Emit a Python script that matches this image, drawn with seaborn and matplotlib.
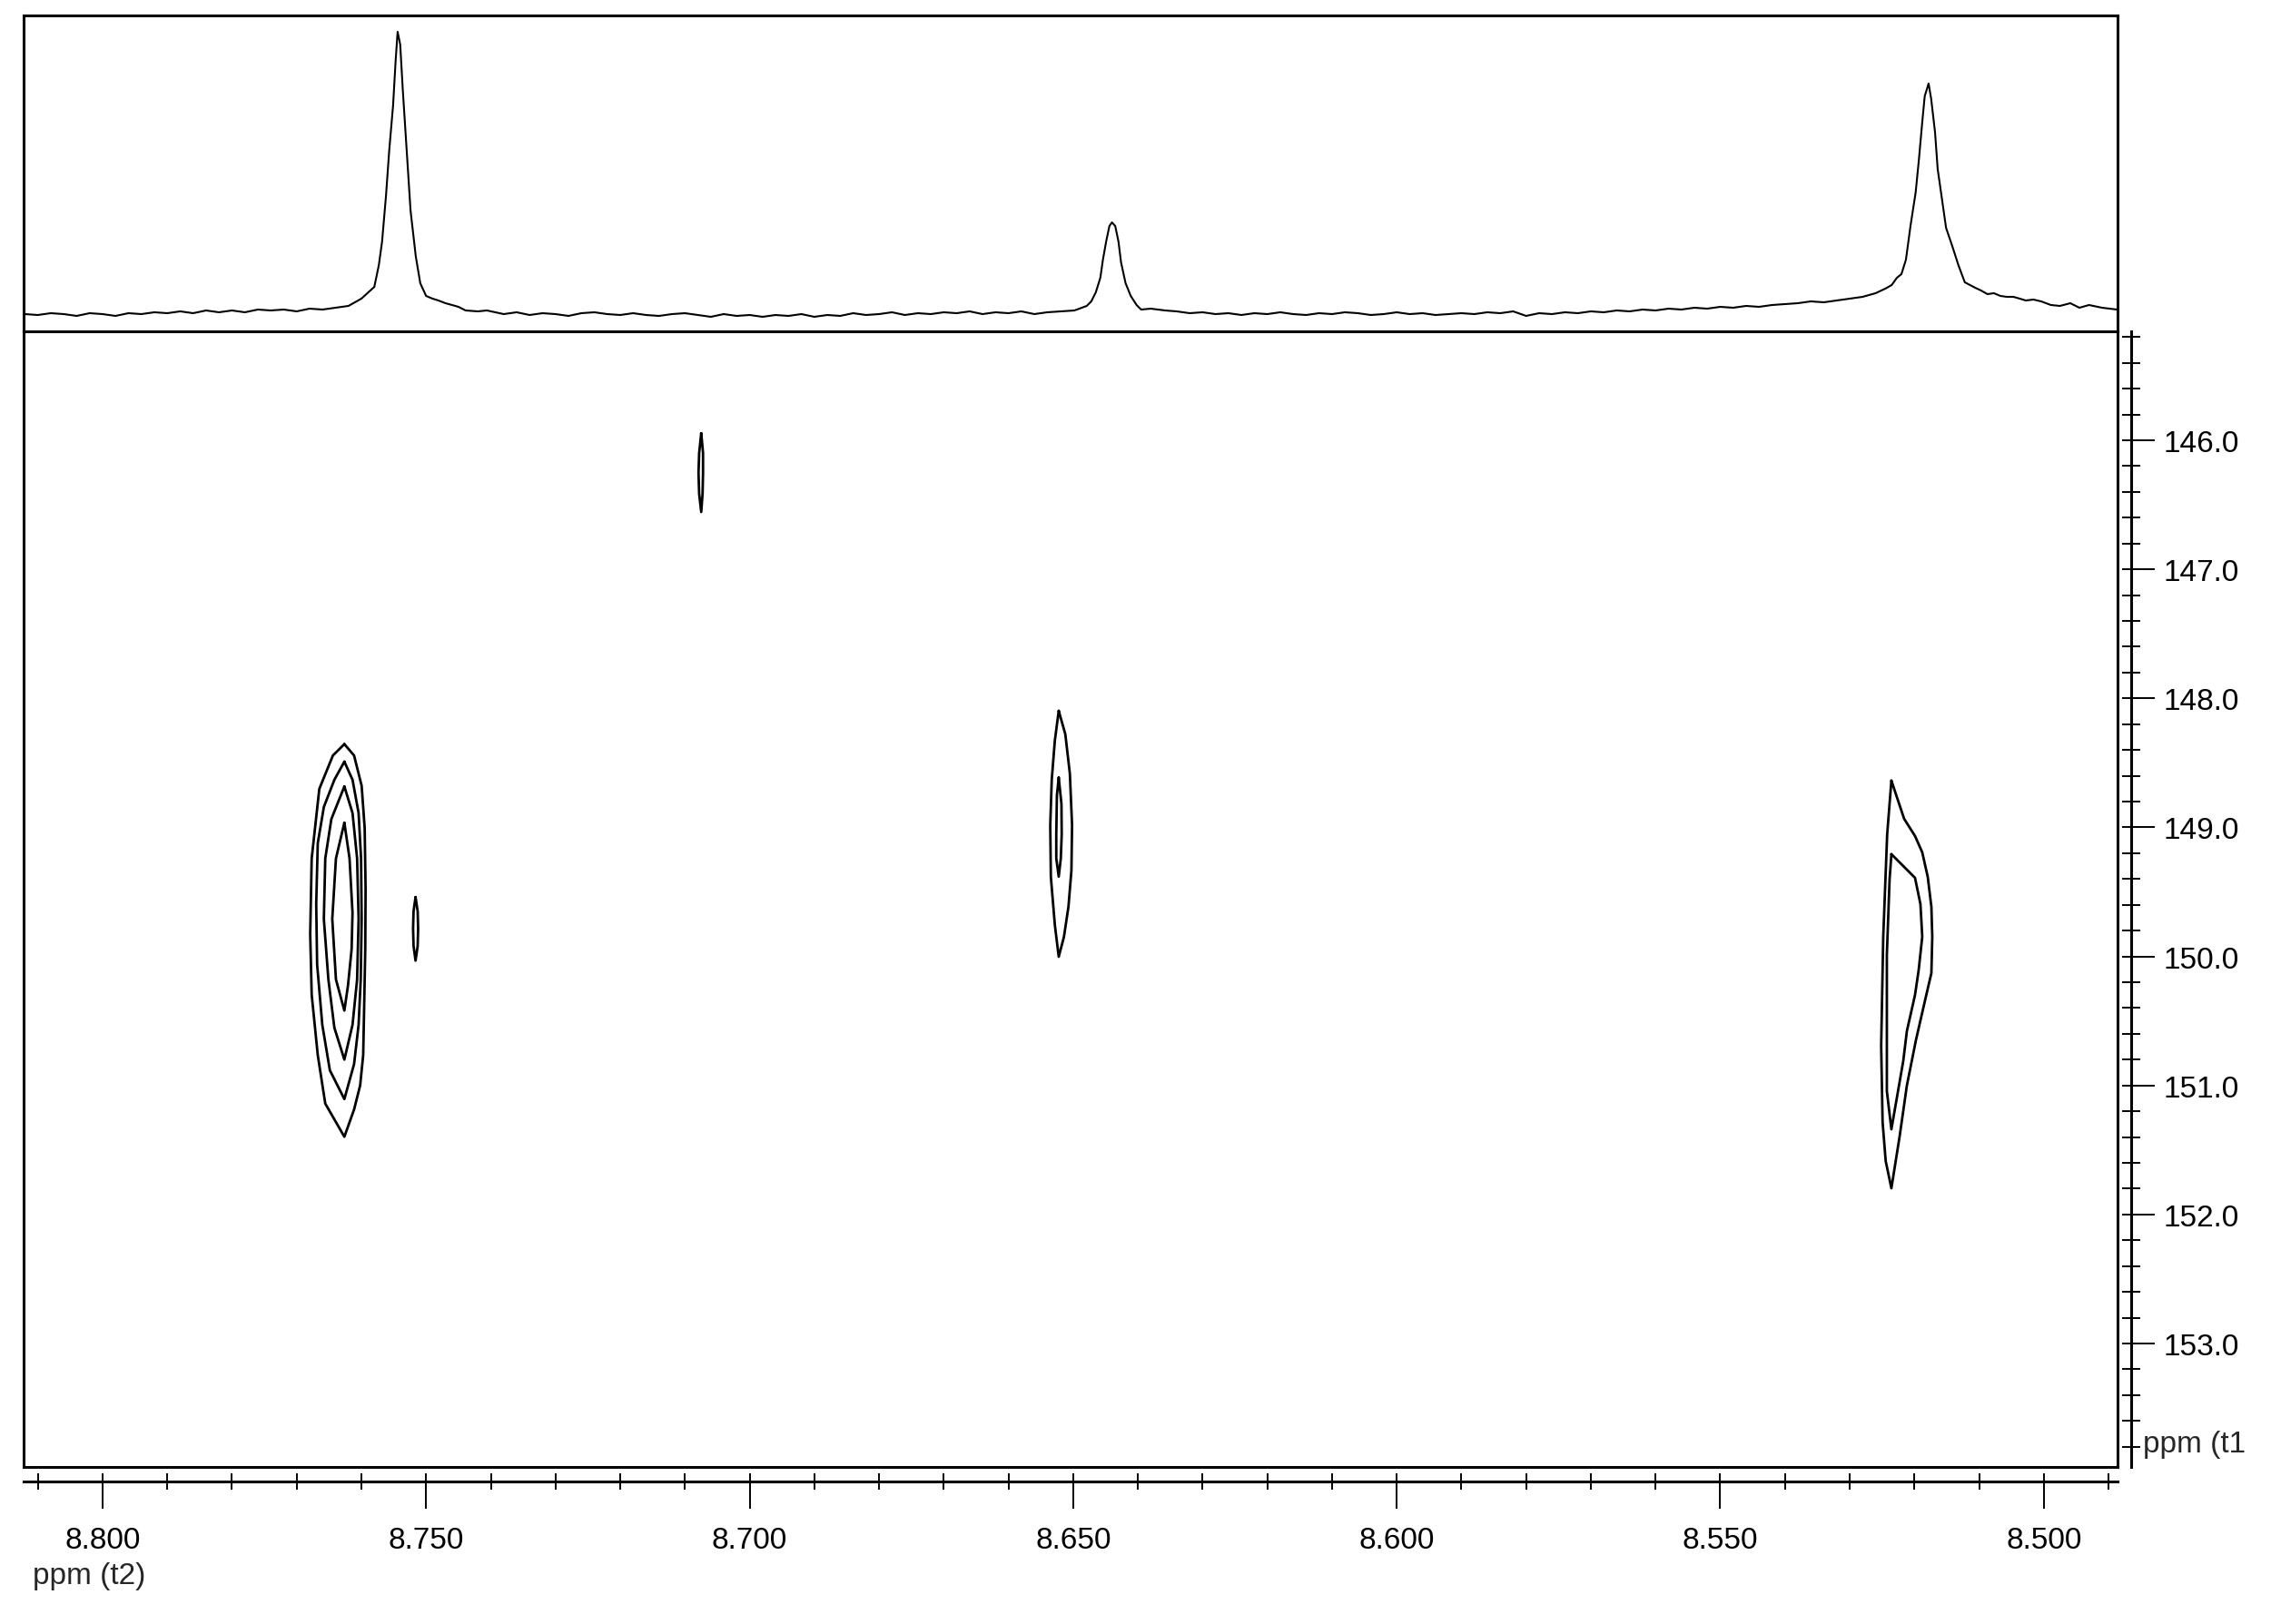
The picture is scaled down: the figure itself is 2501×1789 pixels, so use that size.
import numpy as np
import pandas as pd
import matplotlib
matplotlib.use("Agg")
import matplotlib.pyplot as plt
import seaborn as sns
from matplotlib.ticker import MultipleLocator, FormatStrFormatter

# 1D projection along t2: (ppm, intensity in a.u.)
base_left = [
    (8.812, 0), (8.810, -1), (8.808, 1), (8.806, 0), (8.804, -2), (8.802, 1),
    (8.800, 0), (8.798, -2), (8.796, 1), (8.794, 0), (8.792, 2), (8.790, 1),
    (8.788, 3), (8.786, 1), (8.784, 4), (8.782, 2), (8.780, 4), (8.778, 2),
    (8.776, 5), (8.774, 4), (8.772, 5), (8.770, 3), (8.768, 6), (8.766, 5),
    (8.764, 7), (8.762, 9),
]
peak_1 = [
    (8.7600, 17), (8.7580, 30), (8.7573, 54), (8.7568, 80), (8.7562, 130),
    (8.7557, 180), (8.7551, 230), (8.7547, 280), (8.7544, 311), (8.7540, 297),
    (8.7536, 247), (8.7530, 180), (8.7524, 114), (8.7516, 64), (8.7509, 34),
    (8.7500, 20), (8.7490, 17), (8.7481, 15), (8.7470, 12), (8.7460, 10),
    (8.7450, 8), (8.7439, 4), (8.7420, 3), (8.7406, 4),
]
base_mid = [
    (8.738, 0), (8.736, 2), (8.734, -1), (8.732, 1), (8.730, 0), (8.728, -2),
    (8.726, 1), (8.724, 2), (8.722, 0), (8.720, -1), (8.718, 1), (8.716, -1),
    (8.714, -2), (8.712, 0), (8.710, 1), (8.708, -1), (8.706, -3), (8.704, 0),
    (8.702, -2), (8.700, -1), (8.698, -3), (8.696, -1), (8.694, -2), (8.692, 0),
    (8.690, -3), (8.688, -1), (8.686, -2), (8.684, 1), (8.682, -1), (8.680, 0),
    (8.678, 2), (8.676, -1), (8.674, 1), (8.672, 0), (8.670, 2), (8.668, 1),
    (8.666, 3), (8.664, 0), (8.662, 2), (8.660, 1), (8.658, 3), (8.656, 0),
    (8.654, 2), (8.652, 3),
]
peak_2 = [
    (8.6498, 4), (8.6479, 9), (8.6472, 14), (8.6465, 24), (8.6458, 40),
    (8.6454, 60), (8.6449, 80), (8.6444, 97), (8.6440, 101), (8.6435, 97),
    (8.6430, 80), (8.6426, 57), (8.6419, 34), (8.6411, 20), (8.6402, 10),
    (8.6395, 5), (8.6380, 6), (8.6358, 4),
]
base_right = [
    (8.634, 3), (8.632, 1), (8.630, 2), (8.628, 0), (8.626, 1), (8.624, -1),
    (8.622, 1), (8.620, 0), (8.618, 2), (8.616, 0), (8.614, -1), (8.612, 1),
    (8.610, 0), (8.608, 2), (8.606, 1), (8.604, -1), (8.602, 0), (8.600, 2),
    (8.598, 0), (8.596, 1), (8.594, -1), (8.592, 0), (8.590, 1), (8.588, 0),
    (8.586, 2), (8.584, 1), (8.582, 3), (8.580, -2), (8.578, 1), (8.576, 0),
    (8.574, 2), (8.572, 1), (8.570, 3), (8.568, 2), (8.566, 4), (8.564, 3),
    (8.562, 5), (8.560, 4), (8.558, 6), (8.556, 5), (8.554, 7), (8.552, 6),
    (8.550, 8), (8.548, 7), (8.546, 9), (8.544, 8), (8.542, 10), (8.540, 11),
    (8.538, 12), (8.536, 14), (8.534, 13), (8.532, 15), (8.530, 17),
    (8.528, 19), (8.526, 23), (8.5245, 28), (8.5235, 32), (8.5227, 40),
]
peak_3 = [
    (8.5220, 44), (8.5213, 60), (8.5206, 97), (8.5198, 134), (8.5193, 170),
    (8.5188, 210), (8.5184, 240), (8.5178, 254), (8.5174, 237), (8.5168, 200),
    (8.5164, 160), (8.5156, 120), (8.5151, 95), (8.5141, 74), (8.5132, 54),
    (8.5122, 35), (8.5106, 29), (8.5097, 26), (8.5087, 22), (8.5077, 23),
    (8.5067, 20), (8.5057, 19), (8.5047, 19), (8.5037, 17), (8.5028, 15),
    (8.5016, 16), (8.5004, 14), (8.4989, 10), (8.4975, 9), (8.4959, 12),
    (8.4945, 7), (8.4930, 10), (8.4910, 7), (8.4887, 5),
]

# cross-peak contour outlines (t2 ppm, t1 ppm)
a1_t2 = [8.76263, 8.76113, 8.75996, 8.75949, 8.75935, 8.75940, 8.75958, 8.75972,
         8.76019, 8.76113, 8.76263, 8.76558, 8.76674, 8.76768, 8.76791, 8.76768,
         8.76650, 8.76440, 8.76263]
a1_t1 = [148.355, 148.443, 148.678, 149.006, 149.475, 149.945, 150.413, 150.765,
         151.000, 151.187, 151.398, 151.141, 150.765, 150.297, 149.827, 149.241,
         148.702, 148.443, 148.355]
a2_t2 = [8.76263, 8.76137, 8.76043, 8.76005, 8.75996, 8.76010, 8.76043, 8.76113,
         8.76263, 8.76487, 8.76604, 8.76684, 8.76698, 8.76674, 8.76580, 8.76417,
         8.76263]
a2_t1 = [148.491, 148.631, 148.889, 149.241, 149.710, 150.179, 150.531, 150.835,
         151.106, 150.883, 150.531, 150.062, 149.593, 149.124, 148.842, 148.631,
         148.491]
a3_t2 = [8.76263, 8.76137, 8.76066, 8.76043, 8.76066, 8.76137, 8.76263, 8.76417,
         8.76510, 8.76580, 8.76558, 8.76464, 8.76263]
a3_t1 = [148.683, 148.889, 149.241, 149.710, 150.179, 150.531, 150.800, 150.554,
         150.179, 149.710, 149.241, 148.936, 148.683]
a4_t2 = [8.76263, 8.76183, 8.76137, 8.76151, 8.76207, 8.76263, 8.76393, 8.76450,
         8.76393, 8.76263]
a4_t1 = [148.964, 149.241, 149.663, 149.945, 150.226, 150.420, 150.179, 149.710,
         149.241, 148.964]
b1_t2 = [8.75163, 8.75130, 8.75123, 8.75130, 8.75163, 8.75194, 8.75201, 8.75194,
         8.75163]
b1_t1 = [149.541, 149.651, 149.785, 149.919, 150.033, 149.919, 149.785, 149.651,
         149.541]
c1_t2 = [8.70748, 8.70720, 8.70720, 8.70727, 8.70748, 8.70780, 8.70790, 8.70780,
         8.70748]
c1_t1 = [145.946, 146.098, 146.253, 146.415, 146.556, 146.415, 146.253, 146.098,
         145.946]
d1_t2 = [8.65223, 8.65121, 8.65051, 8.65017, 8.65027, 8.65073, 8.65143, 8.65223,
         8.65283, 8.65345, 8.65354, 8.65331, 8.65283, 8.65223]
d1_t1 = [148.097, 148.279, 148.584, 148.983, 149.335, 149.616, 149.850, 150.003,
         149.757, 149.382, 148.983, 148.631, 148.327, 148.097]
d2_t2 = [8.65223, 8.65181, 8.65177, 8.65191, 8.65223, 8.65261, 8.65261, 8.65251,
         8.65223]
d2_t1 = [148.615, 148.819, 149.053, 149.241, 149.382, 149.241, 149.053, 148.749,
         148.615]
e1_t2 = [8.52355, 8.52158, 8.51990, 8.51878, 8.51793, 8.51737, 8.51723, 8.51737,
         8.51835, 8.51976, 8.52116, 8.52228, 8.52355, 8.52443, 8.52491, 8.52513,
         8.52481, 8.52420, 8.52355]
e1_t1 = [148.638, 148.934, 149.067, 149.194, 149.384, 149.616, 149.848, 150.130,
         150.341, 150.650, 151.002, 151.396, 151.797, 151.586, 151.284, 150.693,
         149.848, 149.053, 148.638]
e2_t2 = [8.52355, 8.51990, 8.51906, 8.51878, 8.51934, 8.51990, 8.52116, 8.52172,
         8.52355, 8.52425, 8.52425, 8.52383, 8.52355]
e2_t1 = [149.208, 149.391, 149.595, 149.848, 150.109, 150.299, 150.580, 150.812,
         151.340, 151.044, 149.989, 149.405, 149.208]

t2_range = (8.8122, 8.4886)
t1_range = (153.957, 145.156)
int_range = (-19, 329)

# ---- data frames
trace = pd.DataFrame(base_left + peak_1 + base_mid + peak_2 + base_right + peak_3,
                     columns=["ppm", "intensity"])
outlines = [("a1", a1_t2, a1_t1), ("a2", a2_t2, a2_t1), ("a3", a3_t2, a3_t1),
            ("a4", a4_t2, a4_t1), ("b1", b1_t2, b1_t1), ("c1", c1_t2, c1_t1),
            ("d1", d1_t2, d1_t1), ("d2", d2_t2, d2_t1), ("e1", e1_t2, e1_t1),
            ("e2", e2_t2, e2_t1)]
cont = pd.concat([pd.DataFrame({"t2": x, "t1": y, "level": name})
                  for name, x, y in outlines], ignore_index=True)

sns.set_theme(style="white")
plt.rcParams["font.family"] = ["Liberation Sans", "DejaVu Sans"]

W, H = 2501, 1790
fig = plt.figure(figsize=(W / 100, H / 100), dpi=100)


def rect(left, top, right, bottom):
    return [left / W, 1 - bottom / H, (right - left) / W, (bottom - top) / H]


ax_top = fig.add_axes(rect(26, 18, 2332, 366))
ax = fig.add_axes(rect(26, 366, 2332, 1617))
ax_t = fig.add_axes(rect(26, 366, 2332, 1617))

# projection trace
sns.lineplot(data=trace, x="ppm", y="intensity", sort=False, estimator=None,
             color="black", linewidth=1.5, ax=ax_top)
ax_top.set_xlim(*t2_range)
ax_top.set_ylim(*int_range)
ax_top.set_xticks([])
ax_top.set_yticks([])
ax_top.set_xlabel("")
ax_top.set_ylabel("")

# contour map
sns.lineplot(data=cont, x="t2", y="t1", units="level", sort=False, estimator=None,
             color="black", linewidth=2.0, ax=ax)
ax.set_xlim(*t2_range)
ax.set_ylim(*t1_range)
ax.set_xticks([])
ax.set_yticks([])
ax.set_xlabel("")
ax.set_ylabel("")

for a in (ax_top, ax):
    for s in a.spines.values():
        s.set_visible(True)
        s.set_color("black")
        s.set_linewidth(2.2)

# detached scale axes
ax_t.patch.set_visible(False)
ax_t.set_xlim(*t2_range)
ax_t.set_ylim(*t1_range)
ax_t.spines["top"].set_visible(False)
ax_t.spines["left"].set_visible(False)
ax_t.spines["bottom"].set_position(("outward", 11.5))
ax_t.spines["right"].set_position(("outward", 10.8))
for s in ("bottom", "right"):
    ax_t.spines[s].set_visible(True)
    ax_t.spines[s].set_color("black")
    ax_t.spines[s].set_linewidth(2.2)
ax_t.xaxis.set_major_locator(MultipleLocator(0.05))
ax_t.xaxis.set_minor_locator(MultipleLocator(0.01))
ax_t.xaxis.set_major_formatter(FormatStrFormatter("%.3f"))
ax_t.yaxis.set_major_locator(MultipleLocator(1.0))
ax_t.yaxis.set_minor_locator(MultipleLocator(0.2))
ax_t.yaxis.set_major_formatter(FormatStrFormatter("%.1f"))
ax_t.yaxis.tick_right()
ax_t.xaxis.remove_overlapping_locs = False
ax_t.yaxis.remove_overlapping_locs = False
ax_t.tick_params(axis="x", which="major", direction="out", length=21.6, width=1.4,
                 color="black", labelsize=24, pad=14, labelcolor="black",
                 bottom=True, labelbottom=True, top=False, labeltop=False)
ax_t.tick_params(axis="x", which="minor", direction="inout", length=13, width=1.4,
                 color="black", bottom=True, top=False)
ax_t.tick_params(axis="y", which="major", direction="out", length=18.7, width=1.4,
                 color="black", labelsize=24, pad=7, labelcolor="black",
                 left=False, labelleft=False, right=True, labelright=True)
ax_t.tick_params(axis="y", which="minor", direction="inout", length=14.4, width=1.4,
                 color="black", left=False, right=True)
ax_t.set_xlabel("")
ax_t.set_ylabel("")

fig.text(36 / W, 1 - 1737 / H, "ppm (t2)", fontsize=24, ha="left", va="center")
fig.text(2360 / W, 1 - 1592 / H, "ppm (t1", fontsize=24, ha="left", va="center")

fig.savefig("out.png", dpi=100, facecolor="white")
